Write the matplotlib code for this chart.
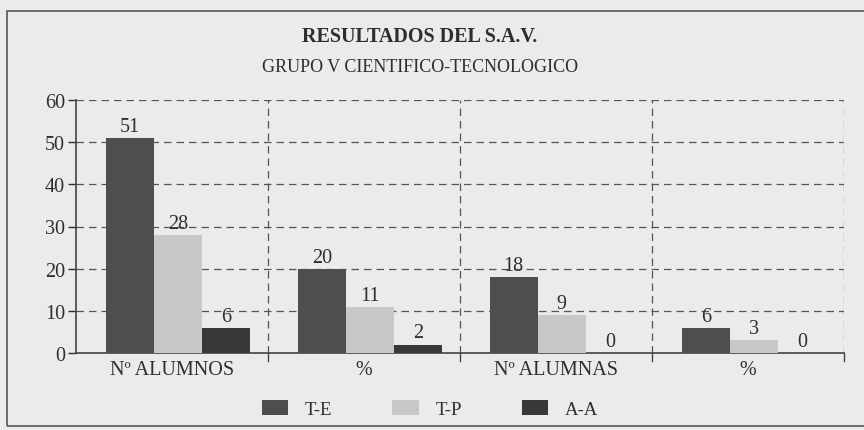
import numpy as np
import matplotlib
matplotlib.use('Agg')
import matplotlib.pyplot as plt
from matplotlib.patches import Rectangle, Patch

plt.rcParams['font.family'] = ['Liberation Serif', 'DejaVu Serif']

# Datos del grafico
categorias = ['Nº ALUMNOS', '%', 'Nº ALUMNAS', '%']
series = ['T-E', 'T-P', 'A-A']
valores_te = [51, 20, 18, 6]
valores_tp = [28, 11, 9, 3]
valores_aa = [6, 2, 0, 0]

colores = ['#4e4e4e', '#c8c8c8', '#383838']
fondo = '#ebebeb'
texto = '#2e2e2e'

fig = plt.figure(figsize=(8.64, 4.31), dpi=100)
fig.patch.set_facecolor(fondo)

ax = fig.add_axes([76 / 864, 1 - 354 / 431, 768 / 864, 253 / 431])
ax.set_facecolor(fondo)

x = np.arange(len(categorias))
ancho = 0.25
desplazamientos = [-0.22, 0.03, 0.28]

for vals, nombre, color, dx in zip([valores_te, valores_tp, valores_aa], series, colores, desplazamientos):
    barras = ax.bar(x + dx, vals, ancho, color=color, label=nombre, zorder=3)
    for b, v in zip(barras, vals):
        ax.text(b.get_x() + b.get_width() / 2, v + 0.5, f'{v}', ha='center', va='bottom',
                fontsize=14.5, color=texto, zorder=4)

ax.set_xlim(-0.5, 3.5)
ax.set_ylim(0, 60)
ax.set_yticks(range(0, 61, 10))
ax.set_xticks(x)
ax.set_xticklabels(categorias, fontsize=14.5, color=texto)
ax.tick_params(axis='x', length=0, pad=5)
ax.tick_params(axis='y', direction='out', length=6, width=1, colors=texto, labelsize=14.5, pad=2)

# rejilla discontinua
for y in range(10, 61, 10):
    ax.axhline(y, color='#555555', lw=0.9, ls=(0, (6, 4)), zorder=1)
for xb in [0.5, 1.5, 2.5, 3.5]:
    ax.axvline(xb, color='#555555', lw=0.9, ls=(0, (6, 4)), zorder=1)
    ax.plot([xb, xb], [0, -1.8], color='#444444', lw=1, clip_on=False)

for s in ['top', 'right']:
    ax.spines[s].set_visible(False)
ax.spines['left'].set_color('#444444')
ax.spines['bottom'].set_color('#444444')
ax.spines['left'].set_linewidth(1.2)
ax.spines['bottom'].set_linewidth(1.2)

fig.text(420 / 864, 1 - 37 / 431, 'RESULTADOS DEL S.A.V.', ha='center', va='center',
         fontsize=14.5, fontweight='bold', color=texto)
fig.text(420 / 864, 1 - 67 / 431, 'GRUPO V CIENTIFICO-TECNOLOGICO', ha='center', va='center',
         fontsize=13, color=texto)

manejadores = [Patch(facecolor=c, label=s) for c, s in zip(colores, series)]
fig.legend(handles=manejadores, loc='center', bbox_to_anchor=(430 / 864, 1 - 410 / 431), ncol=3,
           frameon=False, fontsize=13.5, handlelength=1.4, handleheight=0.9,
           handletextpad=0.9, columnspacing=3.2, labelcolor=texto)

# marco exterior
fig.patches.append(Rectangle((7 / 864, 1 - 427 / 431), 1.0, 415 / 431, transform=fig.transFigure,
                             fill=False, edgecolor='#555555', lw=1.2))

fig.savefig('out.png', dpi=100, facecolor=fondo)
